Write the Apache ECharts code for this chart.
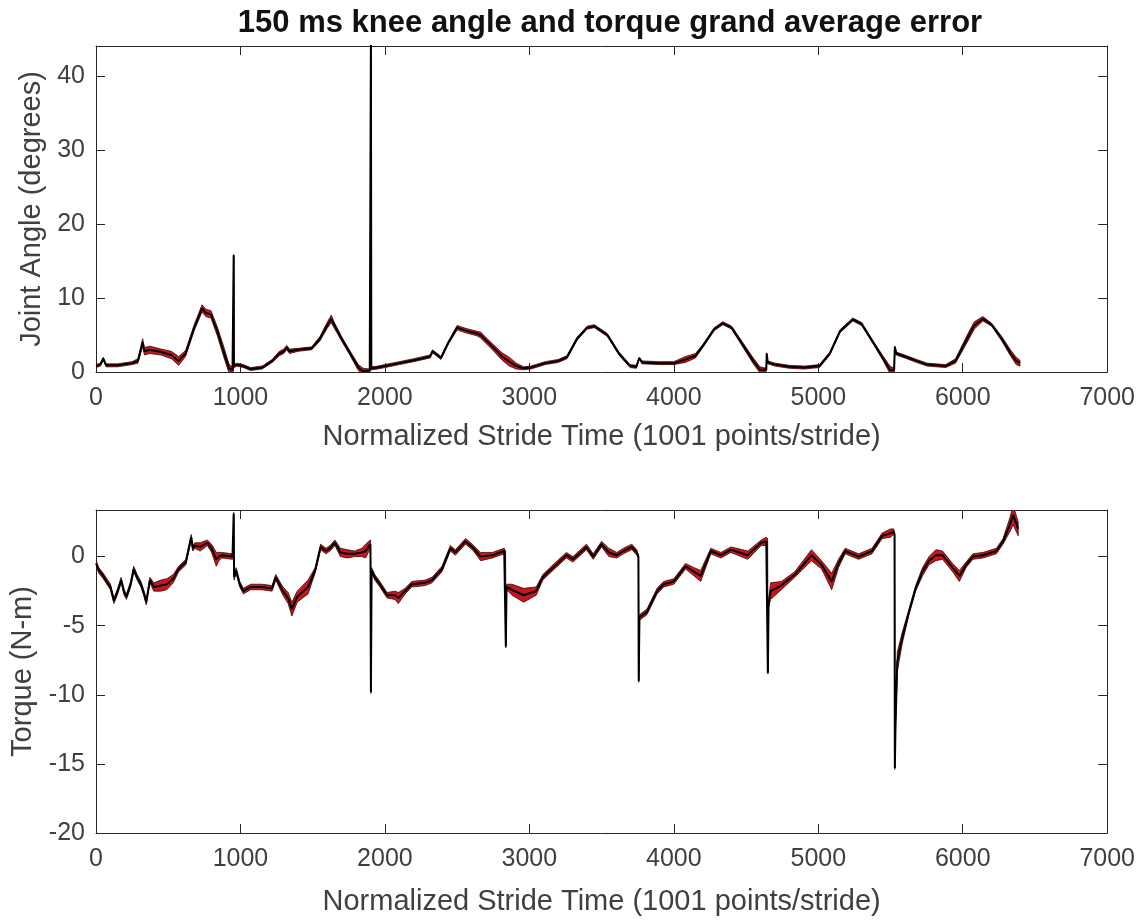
<!DOCTYPE html>
<html>
<head>
<meta charset="utf-8">
<script src="https://cdn.jsdelivr.net/npm/echarts@6/dist/echarts.min.js"></script>
<style>
html,body{margin:0;padding:0;background:#fff;}
#chart{width:1138px;height:924px;}
</style>
</head>
<body>
<div id="chart"></div>
<script>
// ---- Data ----
var titleText = '150 ms knee angle and torque grand average error';
var xAxisName = 'Normalized Stride Time (1001 points/stride)';
var angleAxisName = 'Joint Angle (degrees)';
var torqueAxisName = 'Torque (N-m)';
var xTicks = [0, 1000, 2000, 3000, 4000, 5000, 6000, 7000];
var angleTicks = [0, 10, 20, 30, 40];
var torqueTicks = [-20, -15, -10, -5, 0];

// [time, mean, error half-width]
var angleRows = [
  [0,0.8,0.2],[30,1.0,0.2],[50,1.8,0.2],[70,0.9,0.2],[150,0.9,0.2],[250,1.2,0.2],
  [290,1.5,0.3],[323,4.0,0.5],[335,2.8,0.5],[373,3.0,0.5],[450,2.7,0.4],[522,2.3,0.5],
  [572,1.5,0.6],[620,2.5,0.4],[680,6.0,0.4],[734,8.6,0.5],[760,8.0,0.5],[796,7.8,0.5],
  [840,5.5,0.6],[880,3.0,0.7],[920,0.5,0.6],[945,0.3,0.3],[952,0.3,0.2],[953,15.8,0.1],
  [955,0.8,0.2],[975,1.0,0.2],[1020,0.8,0.2],[1070,0.4,0.2],[1150,0.6,0.2],[1220,1.5,0.2],
  [1269,2.5,0.3],[1300,2.8,0.3],[1320,3.3,0.3],[1340,2.8,0.3],[1400,3.0,0.2],[1493,3.2,0.2],
  [1550,4.5,0.3],[1600,6.3,0.4],[1629,7.2,0.5],[1645,6.5,0.4],[1700,4.5,0.3],[1760,2.5,0.3],
  [1816,0.6,0.4],[1850,0.1,0.4],[1895,0.2,0.2],[1902,0.3,0.1],[1903,45,0.1],[1906,0.5,0.2],
  [1950,0.6,0.2],[2000,0.8,0.2],[2100,1.2,0.2],[2200,1.6,0.2],[2313,2.1,0.2],[2330,2.8,0.2],
  [2388,1.9,0.2],[2440,4.0,0.2],[2500,6.0,0.3],[2560,5.6,0.3],[2637,5.2,0.3],[2662,5.0,0.4],
  [2740,3.5,0.4],[2811,2.1,0.5],[2861,1.4,0.6],[2910,0.8,0.4],[2960,0.5,0.2],[3010,0.6,0.2],
  [3110,1.2,0.2],[3200,1.5,0.2],[3260,2.0,0.2],[3330,4.5,0.2],[3400,6.0,0.2],[3450,6.2,0.2],
  [3540,5.0,0.2],[3620,2.5,0.2],[3697,0.8,0.2],[3740,0.7,0.2],[3761,1.9,0.1],[3780,1.3,0.2],
  [3900,1.2,0.2],[4000,1.2,0.2],[4082,1.7,0.4],[4150,2.2,0.3],[4200,3.5,0.2],[4280,5.8,0.2],
  [4339,6.6,0.2],[4400,6.0,0.2],[4480,3.6,0.3],[4550,1.5,0.4],[4596,0.3,0.4],[4640,0.3,0.2],
  [4643,2.5,0.1],[4650,1.3,0.2],[4700,1.0,0.2],[4800,0.7,0.2],[4905,0.6,0.2],[5008,0.8,0.2],
  [5080,2.5,0.2],[5150,5.5,0.2],[5239,7.1,0.2],[5300,6.5,0.2],[5380,4.0,0.2],[5450,1.8,0.3],
  [5496,0.3,0.5],[5525,0.2,0.3],[5530,3.4,0.1],[5540,2.5,0.2],[5599,2.1,0.2],[5680,1.5,0.2],
  [5753,1.0,0.2],[5882,0.8,0.2],[5950,1.5,0.3],[6036,4.7,0.5],[6080,6.3,0.5],[6139,7.2,0.3],
  [6200,6.4,0.2],[6270,4.5,0.3],[6330,2.6,0.4],[6370,1.5,0.5],[6396,1.2,0.4]
];

var torqueRows = [
  [0,-0.5,0.2],[20,-1.0,0.2],[50,-1.4,0.2],[100,-2.2,0.2],[124,-3.2,0.2],[150,-2.5,0.2],
  [174,-1.7,0.2],[195,-2.6,0.2],[211,-2.9,0.2],[240,-2.0,0.2],[261,-0.9,0.2],[285,-1.5,0.2],
  [311,-2.0,0.2],[330,-2.6,0.2],[348,-3.3,0.2],[373,-1.7,0.2],[400,-2.2,0.3],[448,-2.1,0.4],
  [490,-2.0,0.4],[535,-1.6,0.3],[572,-0.9,0.2],[622,-0.4,0.2],[659,1.4,0.2],[670,0.6,0.2],
  [684,0.8,0.2],[721,0.7,0.3],[771,1.0,0.2],[800,0.6,0.3],[833,-0.2,0.5],[850,0.0,0.3],
  [871,0.1,0.2],[945,0.0,0.2],[952,0.0,0.1],[953,3.1,0.1],[956,-1.5,0.2],[970,-1.0,0.2],
  [995,-2.0,0.2],[1020,-2.5,0.2],[1070,-2.2,0.2],[1150,-2.2,0.2],[1219,-2.3,0.2],[1244,-1.5,0.2],
  [1294,-2.5,0.3],[1330,-3.0,0.4],[1356,-3.8,0.5],[1393,-2.9,0.4],[1468,-2.2,0.5],[1517,-1.0,0.2],
  [1555,0.7,0.2],[1592,0.4,0.2],[1620,0.6,0.2],[1654,1.0,0.2],[1692,0.3,0.3],[1740,0.2,0.3],
  [1791,0.2,0.2],[1841,0.3,0.3],[1866,0.4,0.5],[1900,0.9,0.3],[1903,-9.8,0.1],[1908,-1.0,0.2],
  [1930,-1.5,0.2],[1965,-2.0,0.2],[2015,-2.8,0.2],[2070,-2.8,0.3],[2093,-3.0,0.4],[2140,-2.5,0.2],
  [2186,-2.0,0.2],[2279,-1.9,0.2],[2326,-1.7,0.2],[2395,-0.9,0.2],[2453,0.6,0.2],[2488,0.3,0.2],
  [2558,1.1,0.2],[2605,0.7,0.2],[2663,0.0,0.3],[2744,0.1,0.2],[2826,0.4,0.2],[2835,0.3,0.1],
  [2837,-6.5,0.1],[2842,-2.2,0.2],[2880,-2.4,0.4],[2960,-2.8,0.5],[3047,-2.5,0.3],[3093,-1.5,0.2],
  [3163,-0.8,0.2],[3256,0.1,0.2],[3302,-0.2,0.2],[3395,0.7,0.2],[3442,0.0,0.2],[3500,0.9,0.2],
  [3550,0.3,0.3],[3605,0.1,0.2],[3651,0.4,0.2],[3709,0.7,0.2],[3744,0.3,0.2],[3755,0.0,0.1],
  [3757,-9.0,0.1],[3762,-4.4,0.2],[3814,-4.0,0.2],[3884,-2.5,0.2],[3930,-2.0,0.2],[4000,-1.8,0.2],
  [4081,-0.7,0.2],[4140,-1.1,0.3],[4186,-1.4,0.4],[4256,0.4,0.2],[4326,0.1,0.2],[4395,0.5,0.2],
  [4512,0.1,0.3],[4605,1.0,0.2],[4640,1.1,0.3],[4649,1.2,0.1],[4651,-8.4,0.1],[4656,-3.4,0.3],
  [4670,-2.5,0.6],[4744,-2.1,0.3],[4837,-1.3,0.2],[4953,0.1,0.4],[5023,-0.6,0.3],[5093,-1.8,0.6],
  [5140,-0.5,0.3],[5186,0.4,0.2],[5279,0.0,0.2],[5372,0.4,0.2],[5442,1.5,0.2],[5500,1.7,0.3],
  [5523,1.8,0.2],[5528,1.6,0.1],[5530,-15.3,0.1],[5535,-12.0,0.3],[5547,-7.6,0.7],[5581,-5.9,0.4],
  [5628,-4.0,0.2],[5674,-2.3,0.2],[5721,-1.1,0.3],[5767,-0.3,0.3],[5814,0.1,0.4],[5860,0.1,0.3],
  [5930,-0.8,0.3],[5977,-1.4,0.4],[6023,-0.6,0.2],[6070,0.0,0.2],[6140,0.1,0.2],[6233,0.4,0.2],
  [6279,1.1,0.2],[6326,2.3,0.5],[6349,3.0,0.7],[6384,2.0,0.5]
];

var angleMax = 44.1;
var torqueMax = 3.37;

// ---- Chart ----
var chart = echarts.init(document.getElementById('chart'), null, {renderer: 'canvas'});
var FONT = 'Liberation Sans, Arial, Helvetica, sans-serif';
var AXC = '#262626';
var LBL = '#404040';
var TICKFS = 25;
var NAMEFS = 29;

function meanPoints(rows) { return rows.map(function (r) { return [r[0], r[1]]; }); }
function plainNum(v) { return String(v); }

function bandSeries(rows, idx) {
  return {
    type: 'custom', xAxisIndex: idx * 2, yAxisIndex: idx * 2, clip: true, silent: true, z: 2,
    data: [[rows[0][0], rows[0][1]]],
    renderItem: function (params, api) {
      var up = rows.map(function (r) { return api.coord([r[0], r[1] + r[2]]); });
      var lo = rows.map(function (r) { return api.coord([r[0], r[1] - r[2]]); }).reverse();
      return {
        type: 'polygon',
        shape: {points: up.concat(lo)},
        style: {fill: '#c8161e', stroke: '#3a0606', lineWidth: 0.8}
      };
    }
  };
}

function xAxes(grid, nameGap) {
  return [{
    type: 'value', gridIndex: grid, position: 'bottom', min: xTicks[0], max: xTicks[xTicks.length - 1],
    interval: xTicks[1] - xTicks[0],
    axisLine: {show: true, onZero: false, lineStyle: {color: AXC, width: 1}},
    axisTick: {show: true, inside: true, length: 9, lineStyle: {color: AXC}},
    axisLabel: {show: true, fontSize: TICKFS, color: LBL, fontFamily: FONT, margin: 14, formatter: plainNum},
    splitLine: {show: false},
    name: xAxisName, nameLocation: 'middle', nameGap: nameGap,
    nameTextStyle: {fontSize: NAMEFS, color: LBL, fontFamily: FONT}
  }, {
    type: 'value', gridIndex: grid, position: 'top', min: xTicks[0], max: xTicks[xTicks.length - 1],
    interval: xTicks[1] - xTicks[0],
    axisLine: {show: true, onZero: false, lineStyle: {color: AXC, width: 1}},
    axisTick: {show: true, inside: true, length: 9, lineStyle: {color: AXC}},
    axisLabel: {show: false}, splitLine: {show: false}
  }];
}

function yAxes(grid, ticks, max, name, nameGap) {
  var common = {
    type: 'value', gridIndex: grid, min: ticks[0], max: max, interval: ticks[1] - ticks[0],
    axisLine: {show: true, onZero: false, lineStyle: {color: AXC, width: 1}},
    axisTick: {show: true, inside: true, length: 9, lineStyle: {color: AXC}},
    splitLine: {show: false}
  };
  var left = Object.assign({}, common, {
    position: 'left',
    axisLabel: {show: true, fontSize: TICKFS, color: LBL, fontFamily: FONT, margin: 11, showMaxLabel: false, formatter: plainNum},
    name: name, nameLocation: 'middle', nameGap: nameGap, nameRotate: 90,
    nameTextStyle: {fontSize: NAMEFS, color: LBL, fontFamily: FONT}
  });
  var right = Object.assign({}, common, {position: 'right', axisLabel: {show: false}});
  return [left, right];
}

var option = {
  backgroundColor: '#ffffff',
  animation: false,
  title: {
    text: titleText, left: 605, top: 3, textAlign: 'center',
    textStyle: {fontSize: 31, fontWeight: 'bold', color: '#111', fontFamily: FONT}
  },
  grid: [
    {left: 96, top: 46, width: 1019, height: 326},
    {left: 96, top: 510, width: 1019, height: 323}
  ],
  xAxis: xAxes(0, 50).concat(xAxes(1, 54)),
  yAxis: yAxes(0, angleTicks, angleMax, angleAxisName, 43).concat(yAxes(1, torqueTicks, torqueMax, torqueAxisName, 53)),
  series: [
    bandSeries(angleRows, 0),
    {
      type: 'line', xAxisIndex: 0, yAxisIndex: 0, data: meanPoints(angleRows), showSymbol: false,
      lineStyle: {color: '#000', width: 2}, z: 3, clip: true
    },
    bandSeries(torqueRows, 1),
    {
      type: 'line', xAxisIndex: 2, yAxisIndex: 2, data: meanPoints(torqueRows), showSymbol: false,
      lineStyle: {color: '#000', width: 2}, z: 3, clip: true
    }
  ]
};
chart.setOption(option);
</script>
</body>
</html>
